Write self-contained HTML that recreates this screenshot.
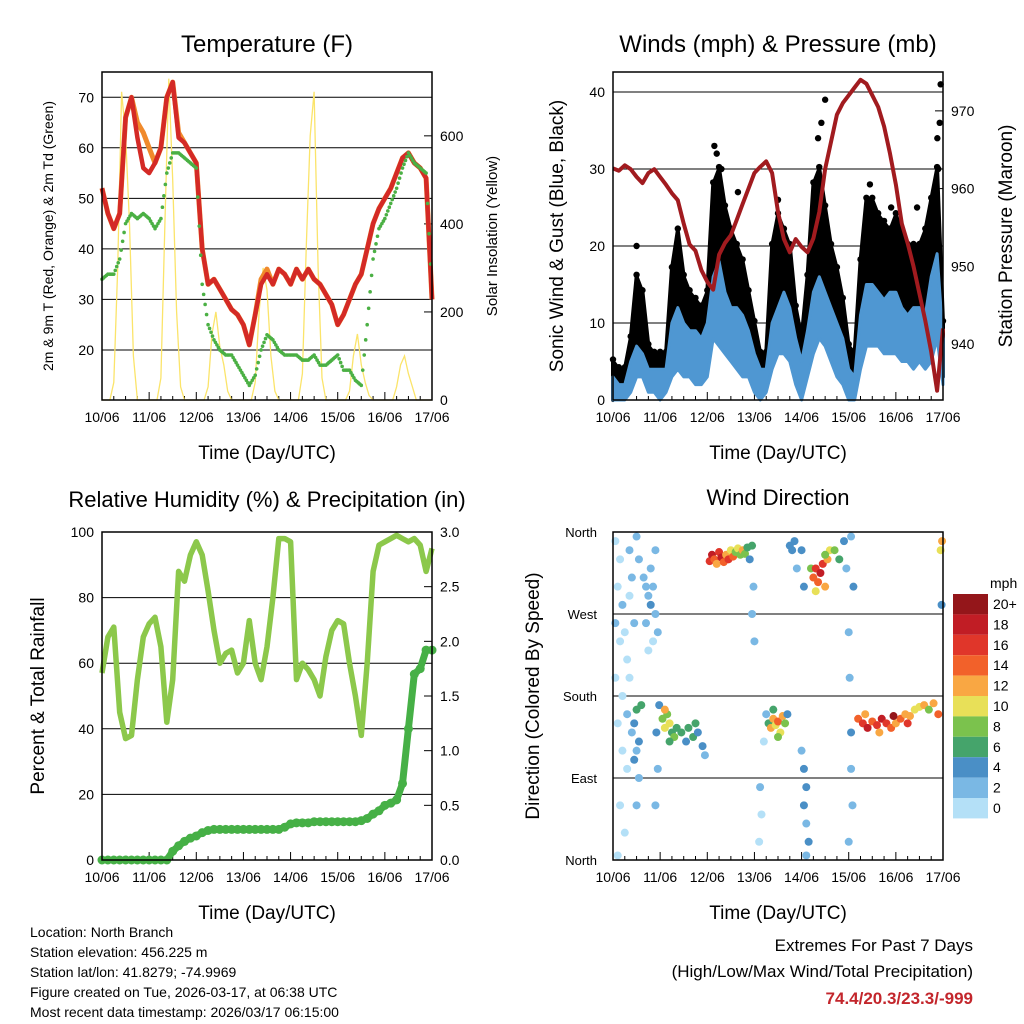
<!DOCTYPE html>
<html><head><meta charset="utf-8"><style>
body{margin:0;background:#fff;}
svg{display:block;font-family:"Liberation Sans",sans-serif;}
</style></head><body>
<svg id="c" width="1024" height="1024" viewBox="0 0 1024 1024"></svg>
<script>
// ---------- DATA (3-hourly samples, day 0 = 10/06 ... day 7 = 17/06) ----------
const dayLabels=["10/06","11/06","12/06","13/06","14/06","15/06","16/06","17/06"];
const tempRed=[52,47,44,47,66,70,62,56, 55,57,60,70,73,62,61,59, 57,40,33,34,32,30,28,27, 25,21,27,33,35,33,36,35, 33,36,34,36,34,33,31,29, 25,27,30,33,35,40,45,48, 50,52,55,58,59,57,56,54, 30];
const tempOrange=[52,47,44,47,66,70,65,63, 60,57,60,70,73,63,61,59, 57,40,33,34,32,30,28,27, 25,21,27,34,36,33,36,35, 33,36,34,36,34,33,31,29, 25,27,30,33,35,40,45,48, 50,52,55,58,59,57,56,54, 30];
const dewGreen=[34,35,35,38,45,47,46,47, 46,44,46,55,59,59,58,57, 56,33,25,22,20,19,19,17, 15,13,15,20,23,22,20,19, 19,19,18,18,19,17,17,18, 19,16,16,14,13,25,38,44, 46,49,52,56,59,57,56,55, 31];
// solar, 2-hourly
const solar=[0,0,0,40,300,700,600,400,100,0,0,0, 0,0,0,50,400,730,500,200,30,0,0,0, 0,0,0,30,150,200,120,80,20,0,0,0, 0,0,0,40,200,300,250,100,20,0,0,0, 0,0,0,60,350,600,700,300,50,0,0,0, 0,0,0,20,100,150,80,40,10,0,0,0, 0,0,0,30,80,100,60,30,0,0,0,0, 0];
const pressure=[962.6,962.3,963,962.5,961.5,960.7,962,962.5, 961.5,960.5,959.4,958.5,955.5,952.8,952,949.5, 948,947,951.5,953,954,956,958,960, 962,962.8,963.5,962,957,953.5,951.8,953.5, 952.5,951.8,953.6,957,962.5,966,969.5,971, 972,973,974,973.5,972,970.5,968,964.5, 960.5,955.5,953,950,946.5,943,939,934, 942];
const windLo=[0,0,0,1,3,3,1,1, 0,1,3,4,3,3,2,2, 3,8,7,6,5,4,3,3, 1,0,1,4,6,6,5,2, 0,3,6,8,7,5,3,2, 0,0,4,7,7,7,6,6, 6,5,5,4,5,4,5,8, 2];
const windHi=[3,2,2,5,7,6,4,4, 4,4,10,12,10,9,9,8, 10,16,18,14,12,12,11,9, 6,4,4,10,12,14,12,8, 5,9,14,16,14,12,10,8, 4,3,11,15,15,14,13,14, 14,12,11,12,12,11,16,19, 8];
const gustLo=[0,1,1,2,5,4,2,2, 1,2,5,6,5,5,4,3, 4,12,12,10,8,7,6,5, 3,1,2,8,10,10,8,4, 2,6,12,14,12,8,6,4, 2,2,8,14,13,12,12,11, 11,10,10,9,8,8,10,15, 3];
const gustHi=[5,4,4,8,16,14,7,6, 6,6,17,22,16,14,13,12, 14,28,30,25,22,20,18,14, 10,6,6,20,24,22,20,12, 8,16,28,30,25,20,17,13, 7,6,18,26,26,24,23,22, 24,22,20,20,20,22,26,30, 10];
const gustPeakT=[0.5,2.15,2.2,2.3,2.65,3.5,4.35,4.42,4.5,5.45,5.9,6.45,6.88,6.9,6.93,6.95];
const gustPeakV=[20,33,32,30,27,26,34,36,39,28,25,25,34,30,36,41];
const rh=[57,68,71,45,37,38,55,68, 72,74,65,42,55,88,85,93, 97,93,82,70,60,63,64,57, 60,73,60,55,65,80,98,98, 97,55,60,58,55,50,62,70, 73,72,60,50,38,60,88,96, 97,98,99,98,97,98,96,88, 95];
const precip=[0,0,0,0,0,0,0,0, 0,0,0,0,0.08,0.13,0.17,0.2, 0.22,0.25,0.27,0.28,0.28,0.28,0.28,0.28, 0.28,0.28,0.28,0.28,0.28,0.28,0.28,0.3, 0.33,0.34,0.34,0.34,0.35,0.35,0.35,0.35, 0.35,0.35,0.35,0.35,0.36,0.38,0.42,0.45, 0.5,0.52,0.55,0.7,1.2,1.7,1.75,1.92, 1.92];
const dirTime=[0.05,0.1,0.15,0.2,0.25,0.3,0.35,0.05,0.1,0.2,0.3,0.15,0.25,0.1,0.35,0.4,0.45,0.05,0.2,0.3,0.4,0.15,0.35,
0.45,0.5,0.55,0.5,0.45,0.55,0.5,0.6,0.5,0.55,
0.65,0.7,0.75,0.8,0.85,0.9,0.7,0.8,0.95,0.75,0.9,0.85,0.92,0.95,0.9,0.98,
1.05,1.1,1.15,1.2,1.25,1.3,1.35,1.1,1.2,
1.45,1.55,1.6,1.7,1.8,1.9,1.95,1.75,
2.05,2.1,2.15,2.2,2.25,2.3,2.35,2.4,2.45,2.5,2.55,
2.6,2.65,2.7,2.75,2.8,2.85,2.95,2.9,2.98,2.95,3.0,
3.1,3.12,3.15,3.2,3.25,
3.3,3.35,3.4,3.45,3.5,3.55,3.6,3.65,3.4,3.5,
3.75,3.8,3.85,3.7,3.9,
4.0,4.05,4.1,4.05,4.1,4.15,4.1,4.0,4.05,4.2,
4.25,4.3,4.35,4.4,4.45,4.5,4.55,4.6,4.3,4.5,
4.7,4.8,4.9,4.95,
5.0,5.02,5.05,5.05,5.08,5.0,5.1,5.05,
5.2,5.3,5.4,5.5,5.6,5.7,5.8,5.9,6.0,6.1,6.2,6.3,6.4,5.35,5.65,5.95,6.25,
6.5,6.6,6.7,6.8,6.9,6.95,6.98,6.97];
const dirDeg=[350,300,330,280,250,220,200,200,150,120,100,60,30,5,340,310,260,260,180,160,140,240,290,
150,165,130,120,110,90,60,170,355,330,
310,300,290,280,300,270,260,320,250,230,340,240,140,100,60,170,
155,145,160,150,140,135,145,165,130,
140,130,145,135,140,125,115,150,
328,335,330,325,338,332,327,335,330,340,333,
338,342,335,340,336,343,345,330,300,270,240,
20,80,50,130,160,
150,145,155,148,152,140,158,150,165,135,
345,340,350,160,320,
120,100,80,60,40,20,5,340,300,320,
310,320,305,315,325,300,330,340,295,335,
340,330,350,320,
250,200,140,100,60,20,300,355,
155,150,145,152,148,155,150,145,150,155,160,158,165,160,140,158,150,
168,170,165,172,160,340,350,280];
const dirSpeed=[1,0,1,2,1,0,1,0,1,0,1,1,0,0,2,3,2,3,1,2,3,1,1,
5,6,4,3,4,3,2,7,3,2,
3,2,3,4,2,3,2,3,2,1,2,1,4,3,2,5,
8,10,9,11,7,8,6,12,6,
6,5,7,6,5,4,3,7,
17,19,15,13,16,18,14,12,17,11,15,
9,10,8,12,9,7,6,5,3,3,2,
1,2,0,1,3,
7,12,13,11,14,10,12,9,6,8,
4,5,4,4,3,
3,4,5,4,3,4,3,5,4,8,
15,17,14,19,16,13,12,10,11,8,
8,6,4,3,
3,3,4,3,2,2,4,3,
14,16,18,15,17,19,16,14,12,15,13,12,11,12,13,20,16,
10,12,9,13,14,10,12,4];
const speedBins=["20+","18","16","14","12","10","8","6","4","2","0"];
const speedColors=["#94161a","#c11d25","#e0362a","#f2612a","#f9a743","#e8e058","#7bc24d","#45a46b","#4a8fc6","#7ab8e4","#b4e0f7"];
const tempTicks=[20,30,40,50,60,70];
const solarTicks=[0,200,400,600];
const windTicks=[0,10,20,30,40];
const presTicks=[940,950,960,970];
const rhTicks=[0,20,40,60,80,100];
const rainTicks=["0.0","0.5","1.0","1.5","2.0","2.5","3.0"];
const dirTicks=["North","East","South","West","North"];

// ---------- DRAWING ----------
const NS="http://www.w3.org/2000/svg";
const svg=document.getElementById('c');
function mk(tag,attrs,parent){const e=document.createElementNS(NS,tag);for(const k in attrs)e.setAttribute(k,attrs[k]);(parent||svg).appendChild(e);return e;}
function txt(s,x,y,size,anchor,extra){const e=mk('text',Object.assign({x:x,y:y,'font-size':size,'text-anchor':anchor||'start',fill:'#000'},extra||{}));e.textContent=s;return e;}
function lin(a,b,c,d){return (v)=>c+(v-a)*(d-c)/(b-a);}

function panel(name){
  const g=mk('g',{});
  
  
  return g;
}
function frame(g,x0,x1,y0,y1){mk('rect',{x:x0,y:y0,width:x1-x0,height:y1-y0,fill:'none',stroke:'#000','stroke-width':1.5},g);}
function xAxis(g,x0,x1,y1){
  const X=lin(0,7,x0,x1);
  for(let d=0;d<=7;d++){
    mk('line',{x1:X(d),x2:X(d),y1:y1,y2:y1-8,stroke:'#000'},g);
    const t=txt(dayLabels[d],X(d),y1+22,14,'middle',{});
    
    
    g.appendChild(t);
    if(d<7)for(let m=1;m<4;m++)mk('line',{x1:X(d+m/4),x2:X(d+m/4),y1:y1,y2:y1-4,stroke:'#000'},g);
  }
  const lt=txt('Time (Day/UTC)',(x0+x1)/2,y1+59,19,'middle');
  
  
  g.appendChild(lt);
  return X;
}
function pathD(xs,ys){return xs.map((x,i)=>(i?'L':'M')+x.toFixed(1)+','+ys[i].toFixed(1)).join('');}

// ===== Panel 1: Temperature =====
(function(){
  const x0=102,x1=432,y0=72,y1=400;
  const g=panel('temperature-panel');
  const Y=lin(10.1,75,y1,y0), YS=lin(0,745,y1,y0);
  tempTicks.forEach(v=>{mk('line',{x1:x0,x2:x1,y1:Y(v),y2:Y(v),stroke:'#000','stroke-width':1},g);txt(String(v),x0-8,Y(v)+5,14,'end');});
  solarTicks.forEach(v=>{mk('line',{x1:x1,x2:x1-8,y1:YS(v),y2:YS(v),stroke:'#000'},g);txt(String(v),x1+8,YS(v)+5,14,'start');});
  const X=xAxis(g,x0,x1,y1);
  const ts=solar.map((v,i)=>X(i/12)), ss=solar.map(v=>YS(v));
  const sp=mk('path',{d:pathD(ts,ss),fill:'none',stroke:'#fbe46a','stroke-width':1.3},g);
  
  
  const tt=tempRed.map((v,i)=>X(i/8));
  const po=mk('path',{d:pathD(tt,tempOrange.map(Y)),fill:'none',stroke:'#f08a2c','stroke-width':5,'stroke-linejoin':'round'},g);
  
  
  const pr=mk('path',{d:pathD(tt,tempRed.map(Y)),fill:'none',stroke:'#d42a26','stroke-width':4.5,'stroke-linejoin':'round'},g);
  
  
  dewGreen.forEach((v,i)=>{if(i<dewGreen.length-1){for(let k=0;k<4;k++){const a=dewGreen[i],b=dewGreen[i+1];const c=mk('circle',{cx:X((i+k/4)/8),cy:Y(a+(b-a)*k/4),r:1.8,fill:'#4bb044'},g);}}});
  frame(g,x0,x1,y0,y1);
  txt('Temperature (F)',267,52,24,'middle');
  txt('2m & 9m T (Red, Orange) & 2m Td (Green)',0,0,14,'middle',{transform:'translate(53,236) rotate(-90)'});
  txt('Solar Insolation (Yellow)',0,0,15,'middle',{transform:'translate(497,236) rotate(-90)'});
})();

// ===== Panel 2: Winds & Pressure =====
(function(){
  const x0=613,x1=943,y0=72,y1=400;
  const g=panel('winds-panel');
  const Y=lin(0,42.6,y1,y0), YP=lin(932.8,975,y1,y0);
  windTicks.forEach(v=>{if(v>0)mk('line',{x1:x0,x2:x1,y1:Y(v),y2:Y(v),stroke:'#000'},g);txt(String(v),x0-8,Y(v)+5,14,'end');});
  presTicks.forEach(v=>{mk('line',{x1:x1,x2:x1-8,y1:YP(v),y2:YP(v),stroke:'#000'},g);txt(String(v),x1+8,YP(v)+5,14,'start');});
  const X=xAxis(g,x0,x1,y1);
  const tt=gustHi.map((v,i)=>X(i/8));
  const gb=mk('path',{d:pathD(tt,gustHi.map(Y))+pathD(tt.slice().reverse(),gustLo.slice().reverse().map(Y)).replace('M','L')+'Z',fill:'#000',stroke:'#000','stroke-width':4,'stroke-linejoin':'round'},g);
  
  
  gustHi.forEach((v,i)=>{const c=mk('circle',{cx:tt[i],cy:Y(v)-2,r:3.2,fill:'#000'},g);});
  gustPeakT.forEach((t,i)=>{const c=mk('circle',{cx:X(t),cy:Y(gustPeakV[i]),r:3.2,fill:'#000'},g);});
  const wb=mk('path',{d:pathD(tt,windHi.map(Y))+pathD(tt.slice().reverse(),windLo.slice().reverse().map(Y)).replace('M','L')+'Z',fill:'#4f97d2',stroke:'#4f97d2','stroke-width':3,'stroke-linejoin':'round'},g);
  
  
  const pp=mk('path',{d:pathD(tt,pressure.map(YP)),fill:'none',stroke:'#a11b1f','stroke-width':4,'stroke-linejoin':'round'},g);
  
  
  frame(g,x0,x1,y0,y1);
  txt('Winds (mph) & Pressure (mb)',778,52,24,'middle');
  txt('Sonic Wind & Gust (Blue, Black)',0,0,19,'middle',{transform:'translate(563,236) rotate(-90)'});
  txt('Station Pressure (Maroon)',0,0,19,'middle',{transform:'translate(1012,236) rotate(-90)'});
})();

// ===== Panel 3: RH & Precip =====
(function(){
  const x0=102,x1=432,y0=532,y1=860;
  const g=panel('humidity-panel');
  const Y=lin(0,100,y1,y0), YR=lin(0,3,y1,y0);
  rhTicks.forEach(v=>{if(v>0&&v<100)mk('line',{x1:x0,x2:x1,y1:Y(v),y2:Y(v),stroke:'#000'},g);txt(String(v),x0-8,Y(v)+5,14,'end');});
  rainTicks.forEach(s=>{const v=parseFloat(s);mk('line',{x1:x1,x2:x1-8,y1:YR(v),y2:YR(v),stroke:'#000'},g);txt(s,x1+8,YR(v)+5,14,'start');});
  const X=xAxis(g,x0,x1,y1);
  const tt=rh.map((v,i)=>X(i/8));
  const rp=mk('path',{d:pathD(tt,rh.map(Y)),fill:'none',stroke:'#8cc84b','stroke-width':5.5,'stroke-linejoin':'round'},g);
  
  
  const pl=mk('path',{d:pathD(tt,precip.map(YR)),fill:'none',stroke:'#46b046','stroke-width':7,'stroke-linejoin':'round','stroke-linecap':'round'},g);
  
  
  precip.forEach((v,i)=>{const c=mk('circle',{cx:tt[i],cy:YR(v),r:4.5,fill:'#46b046'},g);});
  frame(g,x0,x1,y0,y1);
  txt('Relative Humidity (%) & Precipitation (in)',267,507,22,'middle');
  txt('Percent & Total Rainfall',0,0,19,'middle',{transform:'translate(44,696) rotate(-90)'});
})();

// ===== Panel 4: Wind direction =====
(function(){
  const x0=613,x1=943,y0=532,y1=860;
  const g=panel('wind-direction-panel');
  const Y=lin(0,360,y1,y0);
  dirTicks.forEach((s,i)=>{const v=i*90;if(i>0&&i<4)mk('line',{x1:x0,x2:x1,y1:Y(v),y2:Y(v),stroke:'#000'},g);txt(s,x0-16,Y(v)+5,13,'end');});
  const X=xAxis(g,x0,x1,y1);
  function col(s){const idx=Math.min(10,Math.floor(s/2));return speedColors[10-idx];}
  dirTime.forEach((t,i)=>{const c=mk('circle',{cx:X(t),cy:Y(dirDeg[i]),r:4,fill:col(dirSpeed[i])},g);});
  frame(g,x0,x1,y0,y1);
  txt('Wind Direction',778,505,22,'middle');
  txt('Direction (Colored By Speed)',0,0,19,'middle',{transform:'translate(539,696) rotate(-90)'});
  const lg=mk('g',{},svg);
  
  
  txt('mph',990,588,14,'start');
  speedBins.forEach((s,i)=>{const y=594+i*20.4;mk('rect',{x:953,y:y,width:35,height:20.4,fill:speedColors[i]},lg);txt(s,993,y+15,14,'start');});
})();

// ===== Footer text =====
const info=["Location: North Branch","Station elevation: 456.225 m","Station lat/lon: 41.8279; -74.9969","Figure created on Tue, 2026-03-17, at 06:38 UTC","Most recent data timestamp: 2026/03/17 06:15:00"];
info.forEach((s,i)=>{const t=txt(s,30,937+i*20,14,'start');});
txt('Extremes For Past 7 Days',973,951,17,'end');
txt('(High/Low/Max Wind/Total Precipitation)',973,977,17,'end');
const ex=txt('74.4/20.3/23.3/-999',973,1004,17,'end',{fill:'#c3262c','font-weight':'bold'});


</script>
</body></html>
